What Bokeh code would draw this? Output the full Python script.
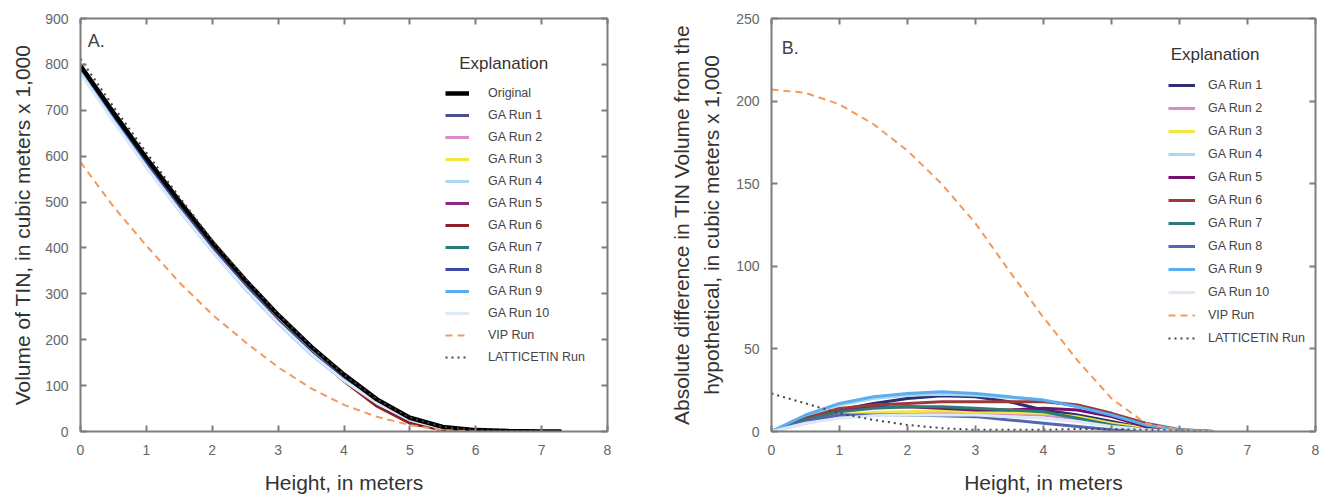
from bokeh.plotting import figure
from bokeh.layouts import row
from bokeh.models import (Range1d, LinearAxis, SingleIntervalTicker, CustomJSTickFormatter,
                          Legend, LegendItem, Label)
from bokeh.embed import file_html
from bokeh.resources import INLINE

# ---------------- Panel A data ----------------
height_a = [0.0, 0.5, 1.0, 1.5, 2.0, 2.5, 3.0, 3.5, 4.0, 4.5, 5.0, 5.5, 6.0, 6.5, 7.0, 7.3]
original_a = [797, 695, 596, 502, 412, 330, 254, 185, 124, 70, 30, 10, 3, 1, 0, 0]
ga1_a = [790, 684, 583, 488, 398, 316, 240, 172, 113, 62, 24, 6, 2, 1, 0, 0]
ga2_a = [788, 683, 582, 487, 397, 315, 240, 172, 113, 63, 25, 6, 2, 0, 0, 0]
ga3_a = [789, 685, 584, 489, 399, 317, 241, 173, 114, 63, 25, 7, 2, 1, 0, 0]
ga4_a = [782, 678, 578, 484, 395, 313, 238, 170, 112, 62, 25, 7, 2, 1, 0, 0]
ga5_a = [790, 684, 584, 488, 398, 316, 240, 171, 111, 58, 20, 4, 1, 0, 0, 0]
ga6_a = [791, 686, 585, 490, 400, 318, 242, 172, 110, 55, 18, 3, 0, 0, 0, 0]
ga7_a = [789, 684, 583, 488, 398, 316, 240, 172, 113, 63, 25, 7, 2, 1, 0, 0]
ga8_a = [788, 683, 582, 487, 398, 316, 241, 173, 114, 64, 26, 7, 2, 1, 0, 0]
ga9_a = [783, 678, 577, 482, 393, 311, 236, 168, 111, 62, 25, 7, 2, 1, 0, 0]
ga10_a = [780, 676, 576, 482, 393, 312, 237, 169, 111, 62, 25, 7, 2, 1, 0, 0]
vip_height_a = [0.0, 0.5, 1.0, 1.5, 2.0, 2.5, 3.0, 3.5, 4.0, 4.5, 5.0, 5.5, 6.0]
vip_a = [587, 490, 405, 325, 255, 195, 140, 94, 58, 32, 14, 3, 0]
lattice_height_a = [0.0, 0.5, 1.0, 1.5, 2.0, 2.5, 3.0, 3.5, 4.0, 4.5, 5.0, 5.5, 6.0, 6.5, 7.0]
lattice_a = [812, 708, 608, 511, 417, 333, 256, 186, 124, 70, 30, 10, 3, 1, 0]

# ---------------- Panel B data ----------------
height_b = [0.0, 0.5, 1.0, 1.5, 2.0, 2.5, 3.0, 3.5, 4.0, 4.5, 5.0, 5.5, 6.0, 6.5]
ga1_b = [0, 7, 13, 17, 20, 21.6, 21, 18, 13, 10, 6, 2, 0.5, 0]
ga2_b = [0, 5, 9, 10.5, 11, 11, 11, 10.5, 10, 7.5, 4, 1, 0, 0]
ga3_b = [0, 6, 10, 11.5, 12, 12.5, 12, 11.5, 11, 9, 5, 2, 0.3, 0]
ga4_b = [0, 9, 16, 20, 22, 22.5, 22, 20.5, 19, 16, 11, 5, 1.5, 0]
ga5_b = [0, 7, 13, 14.5, 15, 14, 13, 13, 14, 13, 9, 3, 0.5, 0]
ga6_b = [0, 8, 14, 16, 17, 18, 18, 18, 18, 16, 11, 5, 1, 0]
ga7_b = [0, 7, 12, 14, 15, 15, 14, 13, 12, 8, 4, 1, 0, 0]
ga8_b = [0, 6, 10, 10, 10, 9.5, 9, 7, 5, 3, 1, 0, 0, 0]
ga9_b = [0, 10, 17, 21, 23, 24, 23, 21, 19, 15, 10, 4, 1, 0]
ga10_b = [0, 5, 8, 9.5, 10, 10, 10, 9, 8, 6, 3, 1, 0, 0]
vip_b = [207, 205, 198, 186, 170, 150, 126, 97, 69, 43, 20, 5, 0.5, 0]
lattice_b = [23, 17, 11, 7, 4, 2, 1, 1, 1, 1.5, 1.5, 1, 0.5, 0]

ga_labels = ["GA Run 1", "GA Run 2", "GA Run 3", "GA Run 4", "GA Run 5",
             "GA Run 6", "GA Run 7", "GA Run 8", "GA Run 9", "GA Run 10"]
ga_colors_a = ["#4b4f8f", "#d58cc8", "#f2e640", "#a9d9f2", "#862a86",
               "#8c1e24", "#2c7b78", "#3a48a8", "#5aaef0", "#dde9f7"]
ga_colors_b = ["#2e2f72", "#d58cc8", "#f2e640", "#a9d9f2", "#74106e",
               "#9c3a3a", "#2c7b78", "#5565b3", "#5aaef0", "#dde9f7"]

FONT = "Liberation Sans"
AXIS_COL = "#7d7d7d"


def style_axes(p, x_interval, y_interval, xlabel, ylabel):
    bottom = p.below[0]
    left = p.left[0]
    bottom.ticker = SingleIntervalTicker(interval=x_interval)
    left.ticker = SingleIntervalTicker(interval=y_interval)
    bottom.axis_label = xlabel
    left.axis_label = ylabel
    top = LinearAxis(ticker=SingleIntervalTicker(interval=x_interval),
                     formatter=CustomJSTickFormatter(code="return ''"))
    right = LinearAxis(ticker=SingleIntervalTicker(interval=y_interval),
                       formatter=CustomJSTickFormatter(code="return ''"))
    p.add_layout(top, "above")
    p.add_layout(right, "right")
    for ax in [bottom, left, top, right]:
        ax.axis_line_color = AXIS_COL
        ax.axis_line_width = 2
        ax.major_tick_line_color = AXIS_COL
        ax.major_tick_line_width = 2
        ax.major_tick_in = 6
        ax.major_tick_out = 0
        ax.minor_tick_line_color = None
        ax.major_label_text_font = FONT
        ax.major_label_text_font_size = "14px"
        ax.major_label_text_color = "#666666"
        ax.axis_label_text_font = FONT
        ax.axis_label_text_font_style = "normal"
        ax.axis_label_text_font_size = "21px"
        ax.axis_label_text_color = "#333333"
    bottom.major_label_standoff = 9
    left.major_label_standoff = 8
    bottom.axis_label_standoff = 13
    left.axis_label_standoff = 8
    top.major_label_standoff = 0
    right.major_label_standoff = 0
    p.xgrid.visible = False
    p.ygrid.visible = False
    p.outline_line_color = None
    return bottom, left


def make_legend(items, loc, glyph_w, standoff, spacing):
    lg = Legend(items=items, location=loc, padding=0, margin=0,
                border_line_color=None, background_fill_alpha=0,
                label_text_font=FONT, label_text_font_size="12.5px",
                label_text_color="#444444", glyph_width=glyph_w, glyph_height=20,
                label_height=20, spacing=spacing, label_standoff=standoff)
    return lg


# ---------------- Panel A ----------------
pa = figure(width=660, height=497, output_backend="svg", toolbar_location=None,
            x_range=Range1d(0, 8), y_range=Range1d(0, 900),
            min_border_left=80, min_border_right=53, min_border_top=18, min_border_bottom=64,
            background_fill_color="#ffffff", border_fill_color="#ffffff")
style_axes(pa, 1, 100, "Height, in meters", "Volume of TIN, in cubic meters x 1,000")

ga_a = [ga1_a, ga2_a, ga3_a, ga4_a, ga5_a, ga6_a, ga7_a, ga8_a, ga9_a, ga10_a]
rs_a = []
for vals, col in zip(ga_a, ga_colors_a):
    rs_a.append(pa.line(height_a, vals, line_color=col, line_width=3))
r_orig = pa.line(height_a, original_a, line_color="#000000", line_width=4.5)
r_vip_a = pa.line(vip_height_a, vip_a, line_color="#f19a5e", line_width=2, line_dash="7 5")
r_lat_a = pa.line(lattice_height_a, lattice_a, line_color="#444444", line_width=2, line_dash="2 4")

items_a = [LegendItem(label="Original", renderers=[r_orig])]
items_a += [LegendItem(label=l, renderers=[r]) for l, r in zip(ga_labels, rs_a)]
items_a += [LegendItem(label="VIP Run", renderers=[r_vip_a]),
            LegendItem(label="LATTICETIN Run", renderers=[r_lat_a])]
pa.add_layout(make_legend(items_a, (365, 64), 24, 19, 2))
pa.add_layout(Label(x=5.75, y=803, text="Explanation", text_font=FONT, text_font_size="17px",
                    text_color="#333333", text_baseline="middle"))
pa.add_layout(Label(x=0.11, y=852, text="A.", text_font=FONT, text_font_size="18px",
                    text_color="#444444", text_baseline="middle"))

# ---------------- Panel B ----------------
pb = figure(width=674, height=497, output_backend="svg", toolbar_location=None,
            x_range=Range1d(0, 8), y_range=Range1d(0, 250),
            min_border_left=111, min_border_right=19, min_border_top=17, min_border_bottom=66,
            background_fill_color="#ffffff", border_fill_color="#ffffff")
bb, lb = style_axes(pb, 1, 50, "Height, in meters",
                    "Absolute difference in TIN Volume from the\nhypothetical, in cubic meters x 1,000")
lb.axis_label_text_line_height = 1.3
lb.axis_label_standoff = 10

ga_b = [ga1_b, ga2_b, ga3_b, ga4_b, ga5_b, ga6_b, ga7_b, ga8_b, ga9_b, ga10_b]
rs_b = []
for vals, col in zip(ga_b, ga_colors_b):
    rs_b.append(pb.line(height_b, vals, line_color=col, line_width=3))
r_vip_b = pb.line(height_b, vip_b, line_color="#f19a5e", line_width=2, line_dash="7 5")
r_lat_b = pb.line(height_b, lattice_b, line_color="#444444", line_width=2, line_dash="2 4")

items_b = [LegendItem(label=l, renderers=[r]) for l, r in zip(ga_labels, rs_b)]
items_b += [LegendItem(label="VIP Run", renderers=[r_vip_b]),
            LegendItem(label="LATTICETIN Run", renderers=[r_lat_b])]
pb.add_layout(make_legend(items_b, (397, 83), 27, 13, 3))
pb.add_layout(Label(x=5.87, y=228, text="Explanation", text_font=FONT, text_font_size="17px",
                    text_color="#333333", text_baseline="middle"))
pb.add_layout(Label(x=0.15, y=232, text="B.", text_font=FONT, text_font_size="18px",
                    text_color="#444444", text_baseline="middle"))

layout = row(pa, pb)
open("out.html", "w").write(file_html(layout, INLINE))
